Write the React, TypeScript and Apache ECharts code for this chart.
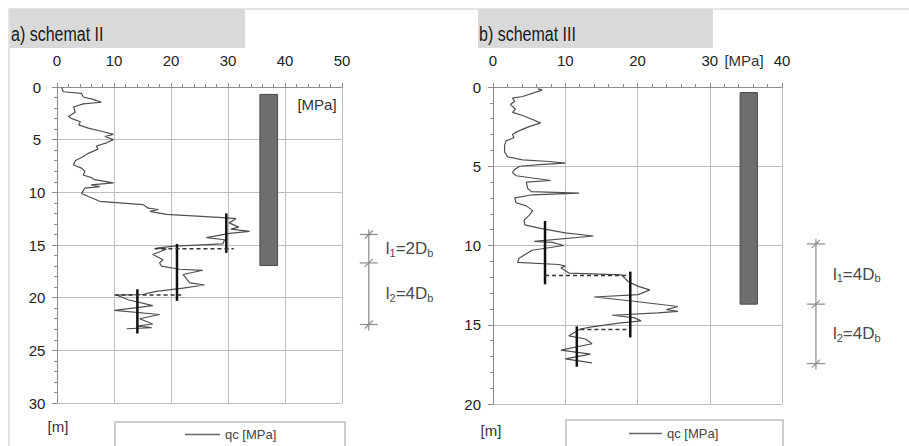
import React, { useEffect, useRef } from "react";
import * as echarts from "echarts";

// ---- data: left profile (schemat II) ----
const leftQc = [0.8,1.1,4.3,4.6,6.5,7.8,4.6,2.9,3.2,2.0,2.6,4.1,3.8,5.5,7.8,9.9,8.4,9.9,8.7,6.9,7.2,5.5,4.6,3.2,2.9,4.3,4.9,4.6,6.0,6.6,9.9,6.0,7.5,4.9,4.3,5.5,7.5,15.1,16.0,17.8,16.3,19.2,29.1,31.4,30.2,31.9,30.5,33.8,30.3,26.2,29.4,29.1,20.6,17.4,19.2,16.8,18.6,18.0,18.3,21.5,25.6,22.1,23.3,25.9,22.1,17.4,16.2,15.1,10.4,12.5,16.8,10.1,18.0,14.5,16.8,14.0,16.6,12.2];
const leftDepth = [0.05,0.45,0.6,0.95,1.2,1.45,1.6,1.9,2.4,2.8,3.0,3.3,3.6,3.9,4.2,4.5,4.7,5.0,5.3,5.6,5.9,6.3,6.6,7.0,7.4,7.7,8.0,8.35,8.6,8.8,9.1,9.3,9.45,9.6,10.1,10.4,10.85,11.16,11.5,11.63,11.8,12.1,12.4,12.5,12.9,13.3,13.5,13.7,13.9,14.3,14.5,14.9,15.1,15.3,15.4,15.9,16.4,16.7,17.0,17.3,17.4,17.8,18.6,18.8,19.1,19.4,19.55,19.7,19.75,20.2,20.75,21.2,21.6,22.0,22.5,22.7,22.85,22.95];

// ---- data: right profile (schemat III) ----
const rightQc = [6.2,6.8,4.1,2.7,3.0,2.4,3.1,2.7,4.1,5.2,6.6,5.0,3.4,2.7,2.9,1.8,1.6,1.6,2.0,4.1,7.8,10.0,6.4,3.7,3.0,2.7,3.2,8.0,4.6,4.8,5.3,11.9,5.5,3.0,3.2,4.6,5.5,5.0,4.3,4.4,6.4,10.0,13.9,5.7,8.2,9.8,5.4,3.6,3.4,9.1,10.0,9.4,10.5,17.8,18.7,20.1,21.7,20.1,14.0,19.2,25.6,24.0,25.6,22.8,16.5,19.5,20.5,17.4,13.5,12.1,11.6,10.5,12.8,13.7,9.4,13.5,10.0,13.7];
const rightDepth = [0.1,0.2,0.6,0.7,0.9,1.1,1.4,1.6,1.8,2.0,2.26,2.5,2.8,3.0,3.2,3.4,3.7,4.1,4.4,4.6,4.7,4.8,4.9,5.0,5.2,5.4,5.6,5.9,6.0,6.4,6.6,6.7,6.8,7.0,7.3,7.5,7.8,8.1,8.4,8.7,8.9,9.2,9.4,9.74,9.8,10.0,10.3,10.8,11.07,11.2,11.3,11.4,11.74,11.85,12.27,12.58,12.8,13.1,13.25,13.5,13.85,14.05,14.15,14.25,14.4,14.55,14.75,14.9,15.15,15.27,15.4,15.7,15.9,16.2,16.6,16.85,17.15,17.4];

// ---- averaged qc segments (vertical) and steps (dashed) ----
const leftPileQc = [29.7, 21.05, 14.1];
const leftPileTop = [12.0, 14.9, 19.2];
const leftPileBottom = [15.75, 20.3, 23.4];
const leftDashDepth = [15.35, 19.75];
const leftDashFrom = [17.1, 10.1];
const leftDashTo = [31.0, 21.8];

const rightPileQc = [7.2, 19.0, 11.6];
const rightPileTop = [8.45, 11.65, 15.1];
const rightPileBottom = [12.45, 15.8, 17.65];
const rightDashDepth = [11.9, 15.3];
const rightDashFrom = [7.2, 12.1];
const rightDashTo = [19.0, 19.0];

// ---- pile bars: [qc from, depth top, qc to, depth bottom] ----
const leftBar = [35.6, 0.7, 38.7, 16.95];
const rightBar = [34.2, 0.35, 36.6, 13.7];

// ---- dimension annotations (depths of nodes) ----
const leftDims = [14.0, 16.7, 22.55];
const leftDimFactors = ["2", "4"];
const rightDims = [9.9, 13.7, 17.45];
const rightDimFactors = ["4", "4"];

const titles = ["a) schemat II", "b) schemat III"];
const seriesName = "qc [MPa]";

const FONT = "'Liberation Sans', Arial, sans-serif";

const pairs = (xs: number[], ys: number[]) => xs.map((x, i) => [x, ys[i]]);
const vSegs = (xs: number[], y0: number[], y1: number[]) => xs.map((x, i) => [x, y0[i], x, y1[i]]);
const hSegs = (ds: number[], x0: number[], x1: number[]) => ds.map((d, i) => [x0[i], d, x1[i], d]);

function segSeries(idx: number, data: number[][], style: any) {
  return {
    type: "custom",
    xAxisIndex: idx,
    yAxisIndex: idx,
    silent: true,
    clip: false,
    z: 4,
    data,
    renderItem: (_p: any, api: any) => {
      const a = api.coord([api.value(0), api.value(1)]);
      const b = api.coord([api.value(2), api.value(3)]);
      return { type: "line", shape: { x1: a[0], y1: a[1], x2: b[0], y2: b[1] }, style };
    },
  };
}

function barSeries(idx: number, bar: number[]) {
  return {
    type: "custom",
    xAxisIndex: idx,
    yAxisIndex: idx,
    silent: true,
    z: 3,
    data: [bar],
    renderItem: (_p: any, api: any) => {
      const a = api.coord([api.value(0), api.value(1)]);
      const b = api.coord([api.value(2), api.value(3)]);
      return {
        type: "rect",
        shape: { x: a[0], y: a[1], width: b[0] - a[0], height: b[1] - a[1] },
        style: { fill: "#6e6e6e", stroke: "#4a4a4a", lineWidth: 1 },
      };
    },
  };
}

function dimSeries(idx: number, xq: number, depths: number[], factors: string[]) {
  const st = { stroke: "#8a8a8a", lineWidth: 1.2 };
  const txt = "#4a4a4a";
  return {
    type: "custom",
    xAxisIndex: idx,
    yAxisIndex: idx,
    silent: true,
    clip: false,
    data: [[xq, depths[0], depths[1], depths[2]]],
    renderItem: (_p: any, api: any) => {
      const pts = [1, 2, 3].map((k) => api.coord([api.value(0), api.value(k)]));
      const x = pts[0][0];
      const children: any[] = [
        { type: "line", shape: { x1: x, y1: pts[0][1] - 5, x2: x, y2: pts[2][1] + 6 }, style: st },
      ];
      pts.forEach((p: number[]) => {
        children.push({ type: "line", shape: { x1: x - 9, y1: p[1], x2: x + 9, y2: p[1] }, style: st });
        children.push({ type: "line", shape: { x1: x - 4, y1: p[1] + 4, x2: x + 4, y2: p[1] - 4 }, style: st });
      });
      for (let i = 0; i < 2; i++) {
        const ym = (pts[i][1] + pts[i + 1][1]) / 2;
        children.push({
          type: "text",
          x: x + 17,
          y: ym,
          style: {
            text: `{a|l}{s|${i + 1}}{a|=${factors[i]}D}{s|b}`,
            align: "left",
            verticalAlign: "middle",
            fill: txt,
            rich: {
              a: { fontSize: 17, fontFamily: FONT, fill: txt, lineHeight: 19 },
              s: { fontSize: 11, fontFamily: FONT, fill: txt, lineHeight: 11, verticalAlign: "bottom" },
            },
          },
        });
      }
      return { type: "group", children };
    },
  };
}

function xAxis(gridIndex: number, max: number) {
  return {
    type: "value",
    gridIndex,
    position: "top",
    min: 0,
    max,
    interval: 10,
    axisLine: { show: true, onZero: false, lineStyle: { color: "#8c8c8c", width: 1 } },
    axisTick: { show: true, length: 4, lineStyle: { color: "#8c8c8c" } },
    minorTick: { show: true, splitNumber: 5, length: 3, lineStyle: { color: "#8c8c8c" } },
    splitLine: { show: true, lineStyle: { color: "#bdbdbd", width: 1 } },
    axisLabel: { margin: 19, fontSize: 15, color: "#222", fontFamily: FONT },
  };
}

function yAxis(gridIndex: number, max: number, align: string, margin: number) {
  return {
    type: "value",
    gridIndex,
    inverse: true,
    min: 0,
    max,
    interval: 5,
    axisLine: { show: true, onZero: false, lineStyle: { color: "#8c8c8c", width: 1 } },
    axisTick: { show: true, length: 5, lineStyle: { color: "#8c8c8c" } },
    minorTick: { show: true, splitNumber: 5, length: 3, lineStyle: { color: "#8c8c8c" } },
    splitLine: { show: true, lineStyle: { color: "#bdbdbd", width: 1 } },
    axisLabel: { margin, align, fontSize: 15, color: "#222", fontFamily: FONT },
  };
}

function qcSeries(idx: number, data: number[][]) {
  return {
    name: seriesName,
    type: "line",
    xAxisIndex: idx,
    yAxisIndex: idx,
    data,
    symbol: "none",
    showSymbol: false,
    z: 3,
    itemStyle: { color: "#666" },
    lineStyle: { color: "#4f4f4f", width: 1.2 },
  };
}

const pileStyle = { stroke: "#111", lineWidth: 2.5 };
const dashStyle = { stroke: "#333", lineWidth: 1.5, lineDash: [4, 3] };

export default function App() {
  const ref = useRef<HTMLDivElement>(null);
  useEffect(() => {
    if (!ref.current) return;
    const chart = echarts.init(ref.current, undefined, { renderer: "svg" });
    const labelText = (text: string, x: number, y: number, size = 15) => ({
      type: "text",
      x,
      y,
      style: { text, fontSize: size, fontFamily: FONT, fill: "#333", align: "center", verticalAlign: "middle" },
    });
    const titleText = (text: string, x: number) => ({
      type: "text",
      x,
      y: 34,
      scaleX: 0.8,
      style: { text, fontSize: 20, fontFamily: FONT, fill: "#1a1a1a", align: "left", verticalAlign: "middle" },
      z: 5,
    });
    chart.setOption({
      animation: false,
      backgroundColor: "#fff",
      legend: [
        {
          data: [seriesName], left: 185, top: 428, icon: "rect", itemWidth: 35, itemHeight: 1.5,
          selectedMode: false, padding: 0, itemGap: 0,
          textStyle: { fontSize: 13, color: "#444", fontFamily: FONT },
        },
        {
          data: [seriesName], left: 629, top: 427, icon: "rect", itemWidth: 33, itemHeight: 1.5,
          selectedMode: false, padding: 0, itemGap: 0,
          textStyle: { fontSize: 13, color: "#444", fontFamily: FONT },
        },
      ],
      grid: [
        { left: 57, top: 87, width: 285, height: 316 },
        { left: 493, top: 87, width: 289, height: 317 },
      ],
      xAxis: [xAxis(0, 50), xAxis(1, 40)],
      yAxis: [yAxis(0, 30, "center", 20), yAxis(1, 20, "right", 12)],
      graphic: [
        { type: "line", shape: { x1: 8, y1: 9, x2: 909, y2: 9 }, style: { stroke: "#e4e4e4", lineWidth: 2 }, z: -10 },
        { type: "line", shape: { x1: 9, y1: 8, x2: 9, y2: 446 }, style: { stroke: "#e4e4e4", lineWidth: 2 }, z: -10 },
        { type: "rect", shape: { x: 10, y: 9, width: 235, height: 39 }, style: { fill: "#d9d9d9" }, z: -5 },
        { type: "rect", shape: { x: 478, y: 9, width: 235, height: 39 }, style: { fill: "#d9d9d9" }, z: -5 },
        titleText(titles[0], 11),
        titleText(titles[1], 479),
        { type: "rect", shape: { x: 115, y: 422, width: 230, height: 40 }, style: { fill: "none", stroke: "#bdbdbd", lineWidth: 1.5 } },
        { type: "rect", shape: { x: 566, y: 420, width: 217, height: 40 }, style: { fill: "none", stroke: "#bdbdbd", lineWidth: 1.5 } },
        labelText("[MPa]", 317, 104),
        labelText("[MPa]", 744, 60),
        labelText("[m]", 58, 426),
        labelText("[m]", 491, 430),
      ],
      series: [
        barSeries(0, leftBar),
        barSeries(1, rightBar),
        qcSeries(0, pairs(leftQc, leftDepth)),
        qcSeries(1, pairs(rightQc, rightDepth)),
        segSeries(0, vSegs(leftPileQc, leftPileTop, leftPileBottom), pileStyle),
        segSeries(0, hSegs(leftDashDepth, leftDashFrom, leftDashTo), dashStyle),
        segSeries(1, vSegs(rightPileQc, rightPileTop, rightPileBottom), pileStyle),
        segSeries(1, hSegs(rightDashDepth, rightDashFrom, rightDashTo), dashStyle),
        dimSeries(0, 54.7, leftDims, leftDimFactors),
        dimSeries(1, 44.7, rightDims, rightDimFactors),
      ],
    });
    return () => chart.dispose();
  }, []);
  return (
    <div
      ref={ref}
      style={{ position: "absolute", left: 0, top: 0, width: 909, height: 446 }}
    />
  );
}
